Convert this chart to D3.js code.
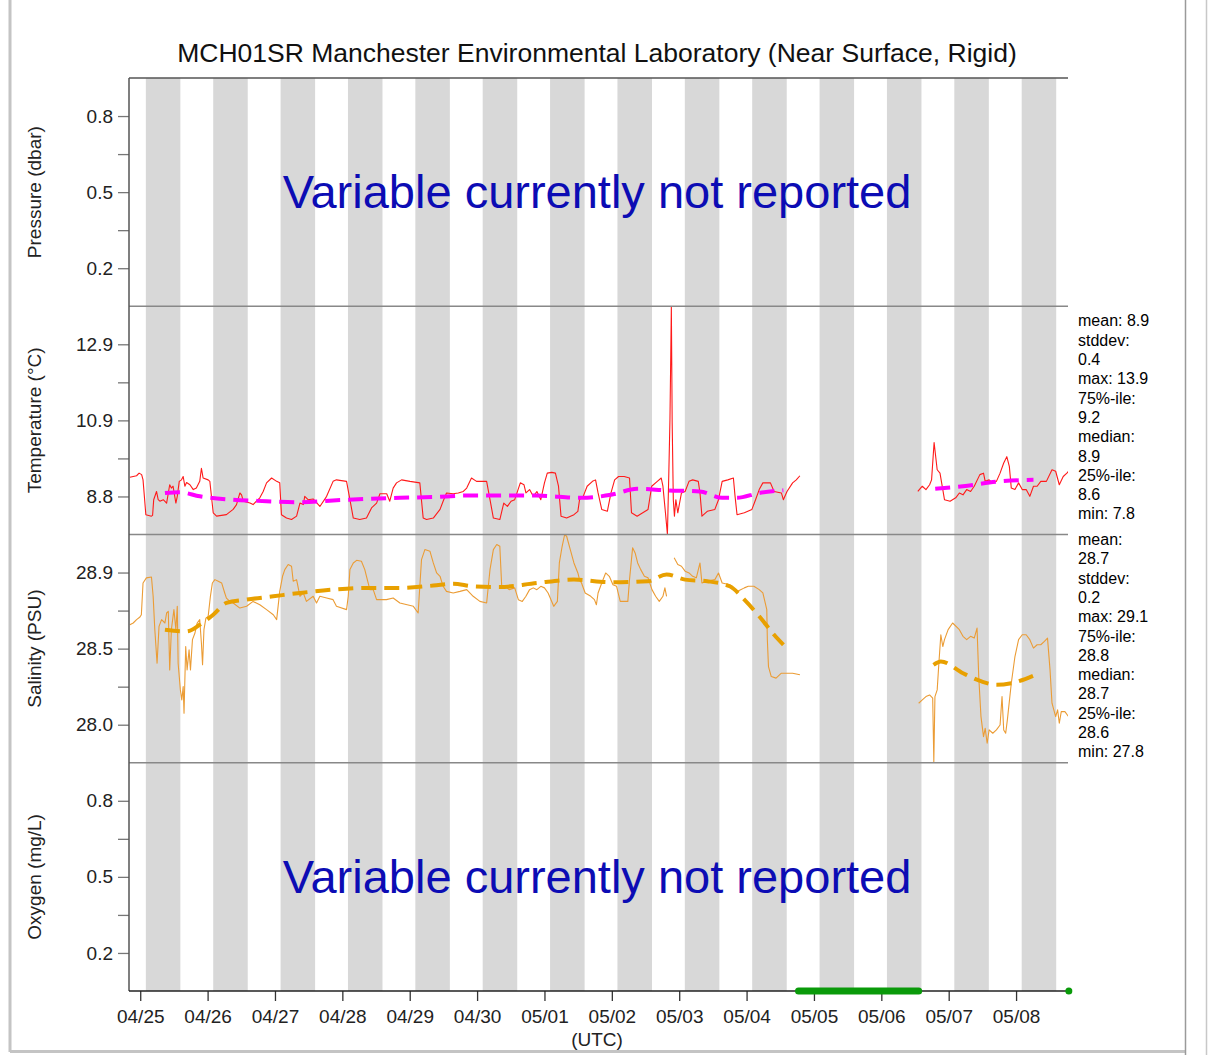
<!DOCTYPE html>
<html>
<head>
<meta charset="utf-8">
<script src="https://cdn.jsdelivr.net/npm/d3@7"></script>
<style>
  body { margin: 0; background: #fff; }
  svg { display: block; font-family: "Liberation Sans", Arial, sans-serif; }
</style>
</head>
<body>
<svg id="chart" width="1228" height="1055"></svg>
<script>
// ---- data (times are hours after 04/25 00:00 UTC) ----
const title = 'MCH01SR Manchester Environmental Laboratory (Near Surface, Rigid)';
const xStart = '2023-04-24T20:00:00Z', xEnd = '2023-05-08T18:30:00Z';
const dayTicks = ['04/25','04/26','04/27','04/28','04/29','04/30','05/01','05/02','05/03','05/04','05/05','05/06','05/07','05/08'];
const nightFromHour = 2.0, nightToHour = 14.3;

const panelNames = ['Pressure (dbar)', 'Temperature (\u00B0C)', 'Salinity (PSU)', 'Oxygen (mg/L)'];
const pressureDomain = [0.05, 0.95], pressureTicks = ['0.2', '0.5', '0.8'];
const tempDomain = [7.8, 13.9], tempTicks = ['8.8', '10.9', '12.9'];
const salDomain = [27.8, 29.1], salTicks = ['28.0', '28.5', '28.9'];
const oxyDomain = [0.05, 0.95], oxyTicks = ['0.2', '0.5', '0.8'];
const notReported = 'Variable currently not reported';

const tempObs = [[-3.7,9.33],[-1.3,9.37],[-0.4,9.44],[0.5,9.40],[1.0,9.26],[2.0,8.33],[4.0,8.29],[4.4,8.31],[4.8,8.73],[5.8,8.95],[6.4,8.73],[7.0,8.69],[8.2,8.73],[9.4,8.64],[10.5,9.13],[11.1,9.04],[11.7,9.09],[12.7,8.64],[13.2,8.82],[13.9,9.22],[14.7,9.26],[15.3,9.35],[15.9,9.09],[16.5,9.19],[17.7,9.13],[18.9,9.00],[20.0,9.04],[21.2,9.22],[21.8,9.57],[22.4,9.31],[24.2,9.26],[24.8,9.22],[26.0,8.38],[27.2,8.29],[30.7,8.33],[33.1,8.47],[34.3,8.60],[35.5,8.91],[36.1,8.86],[36.7,8.69],[39.1,8.64],[40.2,8.60],[41.4,8.69],[42.6,8.78],[43.8,8.95],[45.0,9.18],[46.8,9.31],[48.6,9.22],[49.7,9.18],[50.3,8.33],[52.1,8.24],[53.9,8.20],[55.7,8.29],[56.9,8.64],[58.1,8.60],[58.6,8.82],[59.8,8.73],[61.6,8.75],[64.0,8.55],[66.4,8.82],[68.7,9.22],[69.9,9.26],[73.5,9.22],[74.7,8.73],[75.9,8.24],[78.2,8.20],[80.6,8.24],[82.4,8.51],[84.2,8.64],[85.4,8.89],[87.8,8.89],[88.9,8.69],[90.1,9.04],[91.3,9.18],[93.1,9.26],[96.1,9.22],[99.6,9.18],[100.8,8.24],[102.0,8.20],[104.4,8.24],[106.8,8.47],[107.9,8.69],[109.1,8.91],[111.5,8.89],[113.3,8.91],[115.1,8.95],[116.3,9.04],[118.0,9.31],[119.8,9.22],[123.4,9.22],[124.6,8.73],[125.8,8.24],[128.1,8.20],[129.5,8.64],[130.8,8.55],[132.1,8.69],[133.4,8.73],[135.4,9.18],[136.7,9.13],[137.4,8.91],[138.7,9.00],[140.0,8.82],[141.3,8.95],[142.7,8.73],[144.0,9.18],[145.0,9.44],[146.6,9.46],[147.9,9.44],[149.0,9.09],[149.9,8.29],[151.9,8.24],[154.5,8.33],[155.9,8.42],[156.5,8.73],[157.8,8.82],[159.2,9.09],[161.1,9.22],[162.2,9.26],[163.1,8.91],[164.4,8.47],[166.4,8.42],[167.7,8.91],[169.0,9.26],[170.4,9.35],[172.4,9.35],[174.3,9.31],[175.0,8.38],[177.0,8.29],[180.9,8.47],[182.2,9.09],[184.2,9.22],[185.6,9.31],[186.2,9.09],[187.1,8.38],[187.8,7.80],[188.3,9.44],[188.7,10.86],[189.0,12.63],[189.2,13.89],[189.5,10.77],[189.9,8.73],[190.3,8.29],[190.8,8.73],[191.5,8.38],[192.8,8.91],[194.1,8.95],[195.5,9.22],[196.8,9.26],[198.8,9.22],[199.4,8.91],[200.1,8.29],[202.0,8.42],[204.7,8.47],[206.0,8.73],[207.3,9.22],[209.3,9.26],[211.3,9.31],[211.9,8.82],[212.6,8.33],[215.2,8.38],[217.9,8.47],[219.2,8.73],[220.5,9.00],[221.8,9.18],[224.5,9.18],[225.8,8.95],[228.4,8.91],[229.1,8.73],[230.4,8.95],[232.4,9.18],[233.7,9.26],[235.0,9.37],[256,null],[277.0,8.95],[278.6,9.09],[279.9,9.00],[281.2,9.13],[281.9,9.26],[282.8,10.26],[283.9,9.53],[284.9,9.44],[285.9,9.00],[286.5,8.73],[288.5,8.69],[290.5,8.78],[291.8,8.91],[293.1,8.86],[294.4,9.00],[295.8,8.95],[297.1,9.09],[299.1,9.40],[300.4,9.44],[301.0,9.22],[302.4,9.26],[303.7,9.18],[305.0,9.22],[306.3,9.44],[307.6,9.71],[308.7,9.88],[309.6,9.62],[310.3,9.04],[311.6,9.00],[312.9,9.18],[314.2,9.00],[315.6,9.00],[316.9,8.82],[318.2,9.09],[319.5,9.09],[320.8,9.22],[322.8,9.22],[324.8,9.53],[326.1,9.49],[327.4,9.13],[328.8,9.35],[330.1,9.44],[330.7,9.49]];
const tempTrend = [[8.8,8.91],[14.1,8.93],[21.2,8.82],[33.1,8.73],[45.0,8.69],[56.9,8.66],[68.7,8.71],[80.6,8.75],[92.5,8.78],[104.4,8.80],[116.3,8.84],[128.1,8.84],[141.3,8.84],[157.2,8.78],[167.7,8.86],[177.0,9.02],[187.5,8.98],[199.4,8.95],[207.3,8.78],[212.6,8.78],[220.5,8.91],[229.1,8.98],[256,null],[283.2,9.02],[293.1,9.09],[306.3,9.22],[318.2,9.26]];
const tempStats = [['mean','8.9'],['stddev','0.4'],['max','13.9'],['75%-ile','9.2'],['median','8.9'],['25%-ile','8.6'],['min','7.8']];

const salObs = [[-3.7,28.586],[-2.5,28.596],[-1.3,28.615],[-0.1,28.630],[0.4,28.643],[1.0,28.824],[2.2,28.853],[4.0,28.858],[4.6,28.748],[5.2,28.558],[6.0,28.367],[6.7,28.577],[7.6,28.615],[8.8,28.596],[9.4,28.653],[10.0,28.662],[10.5,28.329],[11.1,28.558],[12.0,28.672],[12.7,28.558],[13.2,28.691],[13.5,28.367],[13.9,28.291],[14.3,28.215],[14.8,28.158],[15.3,28.234],[15.6,28.082],[16.2,28.462],[16.7,28.329],[17.4,28.443],[17.9,28.329],[18.6,28.501],[19.5,28.539],[20.3,28.596],[21.2,28.615],[21.8,28.481],[22.2,28.358],[22.7,28.558],[23.4,28.624],[24.2,28.634],[25.0,28.748],[25.7,28.824],[26.6,28.843],[27.8,28.834],[29.0,28.824],[30.1,28.767],[30.7,28.738],[31.9,28.719],[33.1,28.710],[35.5,28.681],[37.9,28.691],[40.2,28.719],[42.6,28.700],[45.0,28.672],[47.4,28.643],[48.6,28.615],[49.7,28.776],[50.7,28.862],[51.5,28.900],[52.7,28.929],[53.9,28.919],[54.5,28.834],[55.7,28.843],[56.9,28.748],[58.1,28.767],[59.2,28.719],[61.6,28.748],[62.8,28.710],[64.0,28.748],[66.4,28.738],[68.7,28.729],[69.9,28.691],[73.5,28.672],[74.1,28.748],[74.7,28.900],[75.9,28.938],[77.1,28.953],[78.8,28.948],[80.0,28.900],[80.6,28.862],[81.8,28.786],[83.0,28.786],[84.2,28.729],[87.7,28.729],[90.1,28.738],[92.5,28.710],[97.3,28.691],[99.0,28.653],[100.2,28.957],[101.4,29.014],[103.2,29.005],[104.4,28.938],[105.6,28.881],[106.8,28.862],[107.9,28.805],[109.1,28.776],[111.5,28.767],[113.9,28.776],[116.3,28.786],[118.6,28.748],[121.0,28.719],[123.4,28.710],[124.6,28.900],[125.8,29.014],[127.0,29.043],[128.1,29.033],[128.8,28.796],[130.1,28.805],[131.4,28.786],[133.4,28.796],[134.7,28.729],[136.1,28.719],[137.4,28.748],[138.7,28.786],[140.0,28.796],[141.3,28.786],[142.7,28.805],[144.0,28.796],[145.3,28.767],[147.3,28.691],[148.6,28.719],[149.3,28.938],[150.3,29.033],[151.2,29.100],[151.9,29.090],[153.2,29.014],[154.5,28.938],[155.9,28.881],[156.5,28.843],[157.2,28.824],[158.5,28.767],[160.5,28.748],[161.8,28.729],[162.5,28.700],[163.1,28.767],[164.4,28.824],[165.8,28.881],[167.1,28.862],[168.4,28.814],[169.7,28.805],[170.4,28.757],[171.0,28.719],[173.7,28.719],[174.3,28.843],[175.4,29.024],[176.3,28.995],[177.2,28.938],[178.3,28.900],[179.6,28.862],[180.9,28.853],[182.3,28.786],[183.6,28.748],[184.9,28.719],[186.2,28.748],[186.9,28.796],[187.5,28.748],[188.8,null],[190.2,28.967],[191.5,28.929],[192.8,28.919],[194.1,28.891],[195.5,28.881],[196.8,28.862],[198.1,28.853],[199.4,28.938],[200.1,28.824],[202.0,28.834],[204.7,28.843],[206.0,28.881],[207.3,28.824],[210.0,28.814],[211.3,28.796],[212.6,28.776],[213.9,28.786],[215.2,28.796],[216.6,28.805],[218.6,28.805],[220.5,28.786],[221.8,28.767],[223.2,28.672],[223.4,28.501],[223.8,28.348],[224.8,28.291],[226.5,28.282],[228.4,28.310],[230.4,28.310],[232.4,28.310],[235.0,28.301],[256,null],[277.3,28.139],[278.6,28.158],[279.9,28.177],[281.2,28.186],[282.3,28.168],[282.7,27.806],[283.1,28.177],[283.9,28.215],[284.5,28.367],[285.2,28.529],[285.9,28.462],[286.5,28.501],[287.8,28.558],[289.4,28.596],[291.8,28.558],[293.1,28.520],[294.4,28.501],[295.8,28.520],[297.1,28.510],[298.1,28.567],[298.7,28.291],[299.5,28.063],[300.4,27.949],[301.0,27.996],[301.7,27.911],[302.4,27.987],[303.7,27.968],[305.0,27.987],[306.3,28.015],[307.0,28.177],[307.6,27.987],[308.3,27.968],[308.9,28.044],[310.3,28.253],[311.6,28.405],[312.9,28.501],[314.2,28.529],[315.6,28.529],[316.9,28.501],[318.2,28.453],[319.5,28.472],[320.8,28.472],[322.1,28.491],[323.2,28.510],[324.1,28.329],[324.8,28.139],[326.1,28.063],[326.8,28.101],[327.4,28.025],[328.1,28.091],[329.4,28.091],[330.7,28.063]];
const salTrend = [[8.8,28.558],[16.5,28.548],[21.2,28.586],[26.0,28.643],[30.7,28.710],[37.9,28.729],[47.4,28.748],[56.9,28.767],[68.7,28.786],[80.6,28.796],[92.5,28.796],[104.4,28.809],[111.5,28.820],[118.6,28.805],[128.1,28.801],[141.3,28.824],[154.5,28.843],[167.7,28.828],[180.9,28.834],[187.5,28.872],[194.1,28.843],[202.0,28.834],[210.0,28.805],[215.2,28.729],[220.5,28.634],[225.8,28.529],[229.1,28.472],[256,null],[282.6,28.358],[285.2,28.377],[293.1,28.310],[299.7,28.263],[305.0,28.244],[310.3,28.253],[318.9,28.301]];
const salStats = [['mean','28.7'],['stddev','0.2'],['max','29.1'],['75%-ile','28.8'],['median','28.7'],['25%-ile','28.6'],['min','27.8']];

const gapHours = [234.5, 277.3];   // no data reported
const lastHour = 330.8;

// ---- layout ----
const svg = d3.select('#chart');
const plotLeft = 129, plotRight = 1068, plotTop = 78, plotBottom = 991;
const panelH = (plotBottom - plotTop) / 4;
const t0 = Date.UTC(2023, 3, 25);
const at = h => new Date(t0 + h * 3600000);
const parseDay = d3.utcParse('%Y/%m/%d');
const dayDates = dayTicks.map(d => parseDay('2023/' + d));

const x = d3.scaleUtc().domain([new Date(xStart), new Date(xEnd)]).range([plotLeft, plotRight]);

// page frame
svg.append('line').attr('x1', 10).attr('x2', 10).attr('y1', 0).attr('y2', 1052).attr('stroke', '#c4c4c4').attr('stroke-width', 3);
svg.append('line').attr('x1', 10).attr('x2', 1186).attr('y1', 1051.5).attr('y2', 1051.5).attr('stroke', '#c4c4c4').attr('stroke-width', 3);
svg.append('line').attr('x1', 1185.5).attr('x2', 1185.5).attr('y1', 0).attr('y2', 1055).attr('stroke', '#9a9a9a').attr('stroke-width', 1.5);
svg.append('line').attr('x1', 1206.5).attr('x2', 1206.5).attr('y1', 0).attr('y2', 1055).attr('stroke', '#c8c8c8').attr('stroke-width', 1.5);

svg.append('text').attr('x', 597).attr('y', 62)
    .attr('text-anchor', 'middle').style('font-size', '26.5px').attr('fill', '#111').text(title);

// night shading
svg.append('g').selectAll('rect').data(dayDates).join('rect')
    .attr('x', d => x(d3.utcMinute.offset(d, nightFromHour * 60)))
    .attr('width', d => x(d3.utcMinute.offset(d, nightToHour * 60)) - x(d3.utcMinute.offset(d, nightFromHour * 60)))
    .attr('y', plotTop).attr('height', plotBottom - plotTop)
    .attr('fill', '#d8d8d8');

const panels = [
    { name: panelNames[0], domain: pressureDomain, labels: pressureTicks },
    { name: panelNames[1], domain: tempDomain, labels: tempTicks, raw: tempObs, trend: tempTrend, color: '#ff1a1a', trendColor: '#ff00ff', stats: tempStats },
    { name: panelNames[2], domain: salDomain, labels: salTicks, raw: salObs, trend: salTrend, color: '#eb9c35', trendColor: '#e8a000', stats: salStats },
    { name: panelNames[3], domain: oxyDomain, labels: oxyTicks }
];

const measure = svg.append('text').style('font-size', '16px').attr('visibility', 'hidden');
function wrapStats(stats) {
    const lines = [];
    stats.forEach(s => {
        const full = s[0] + ': ' + s[1];
        measure.text(full);
        if (measure.node().getComputedTextLength() > 75) {
            lines.push(s[0] + ':');
            lines.push(s[1]);
        } else {
            lines.push(full);
        }
    });
    return lines;
}

panels.forEach((p, i) => {
    const pTop = plotTop + i * panelH, pBot = pTop + panelH;
    const y = d3.scaleLinear().domain(p.domain).range([pBot, pTop]);
    const span = p.domain[1] - p.domain[0];
    const major = [1 / 6, 1 / 2, 5 / 6].map(f => p.domain[0] + f * span);
    const minor = [1 / 3, 2 / 3].map(f => p.domain[0] + f * span);

    const clipId = 'clip' + i;
    svg.append('clipPath').attr('id', clipId).append('rect')
        .attr('x', plotLeft).attr('y', pTop - 1).attr('width', plotRight - plotLeft).attr('height', panelH + 2);

    if (p.raw) {
        const line = d3.line()
            .defined(d => d[1] !== null)
            .x(d => x(at(d[0])))
            .y(d => y(d[1]));
        const g = svg.append('g').attr('clip-path', `url(#${clipId})`);
        g.append('path').datum(p.raw)
            .attr('fill', 'none').attr('stroke', p.color).attr('stroke-width', 1.1)
            .attr('stroke-linejoin', 'round').attr('d', line);
        g.append('path').datum(p.trend)
            .attr('fill', 'none').attr('stroke', p.trendColor).attr('stroke-width', 4)
            .attr('stroke-dasharray', '15,8').attr('d', line.curve(d3.curveMonotoneX));

        const lines = wrapStats(p.stats);
        const lh = 19.3;
        const y0 = (pTop + pBot) / 2 - 3 - (lines.length - 1) * lh / 2;
        svg.append('g').selectAll('text').data(lines).join('text')
            .attr('x', 1078).attr('y', (d, k) => y0 + k * lh).attr('dy', '0.35em')
            .style('font-size', '16px').attr('fill', '#000').text(d => d);
    } else {
        svg.append('text').attr('x', 597).attr('y', (pTop + pBot) / 2 + 16)
            .attr('text-anchor', 'middle').style('font-size', '47px')
            .attr('fill', '#0c0cb4').text(notReported);
    }

    // panel top border
    svg.append('line').attr('x1', plotLeft).attr('x2', plotRight).attr('y1', pTop).attr('y2', pTop)
        .attr('stroke', i === 0 ? '#555' : '#888').attr('stroke-width', 1.5);

    const ax = svg.append('g').attr('transform', `translate(${plotLeft},0)`)
        .call(d3.axisLeft(y).tickValues(major).tickFormat((d, k) => p.labels[k]).tickSize(11).tickPadding(5).tickSizeOuter(0));
    ax.append('g').call(d3.axisLeft(y).tickValues(minor).tickFormat('').tickSize(11).tickSizeOuter(0));
    ax.selectAll('.domain').remove();
    ax.selectAll('.tick line').attr('stroke', '#777').attr('stroke-width', 1.3);
    ax.selectAll('.tick text').style('font-size', '19px').attr('fill', '#222').style('font-family', 'inherit');

    svg.append('text')
        .attr('transform', `translate(41,${(pTop + pBot) / 2}) rotate(-90)`)
        .attr('text-anchor', 'middle').style('font-size', '19px').attr('fill', '#222')
        .text(p.name);
});

// left axis line and bottom axis
svg.append('line').attr('x1', plotLeft).attr('x2', plotLeft).attr('y1', plotTop).attr('y2', plotBottom).attr('stroke', '#555').attr('stroke-width', 1.5);

const xa = svg.append('g').attr('transform', `translate(0,${plotBottom})`)
    .call(d3.axisBottom(x).tickValues(dayDates).tickFormat(d3.utcFormat('%m/%d')).tickSize(10).tickPadding(9).tickSizeOuter(0));
xa.select('.domain').remove();
xa.selectAll('.tick line').attr('stroke', '#333').attr('stroke-width', 1.3);
xa.selectAll('.tick text').style('font-size', '19px').attr('fill', '#222').style('font-family', 'inherit');
svg.append('line').attr('x1', plotLeft).attr('x2', plotRight).attr('y1', plotBottom).attr('y2', plotBottom).attr('stroke', '#222').attr('stroke-width', 1.5);

svg.append('text').attr('x', 597).attr('y', 1046).attr('text-anchor', 'middle')
    .style('font-size', '19px').attr('fill', '#222').text('(UTC)');

// missing data marker and latest point
svg.append('line').attr('x1', x(at(gapHours[0]))).attr('x2', x(at(gapHours[1])))
    .attr('y1', plotBottom).attr('y2', plotBottom)
    .attr('stroke', '#0a9a0a').attr('stroke-width', 7).attr('stroke-linecap', 'round');
svg.append('circle').attr('cx', x(at(lastHour))).attr('cy', plotBottom).attr('r', 3.5).attr('fill', '#0a9a0a');
</script>
</body>
</html>
